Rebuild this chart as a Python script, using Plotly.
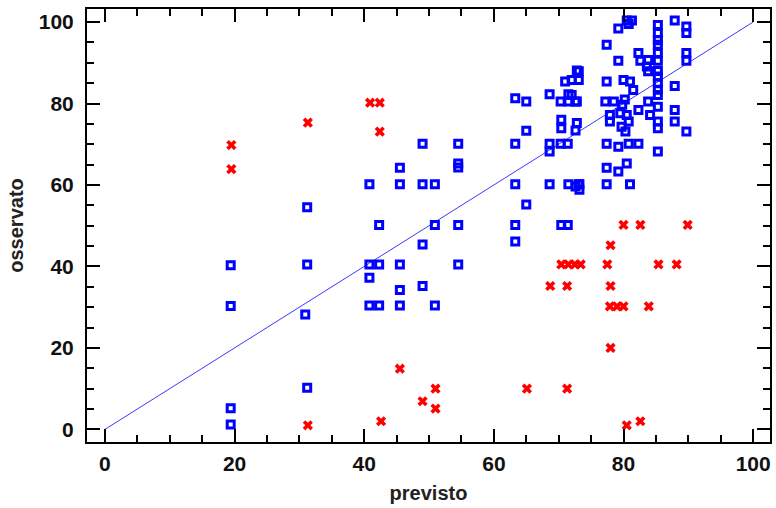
import plotly.graph_objects as go

# Blue points (previsto, osservato)
blue_x = [19.4, 19.4, 19.4, 19.4,
          31.2, 31.2, 30.9, 31.2,
          40.8, 40.8, 42.3, 40.8, 40.8, 42.3, 42.3,
          45.5, 45.5, 45.5, 45.5, 45.5,
          49.0, 49.0, 49.0, 49.0, 50.9, 50.9, 50.9,
          54.5, 54.5, 54.5, 54.5, 54.5,
          63.3, 63.3, 63.3, 63.3, 63.3, 65.0, 65.0, 65.0,
          68.6, 68.6, 68.6, 68.6,
          70.3, 71.4, 70.4, 70.4, 70.3, 71.5, 72.6, 71.5, 71.0, 72.0, 73.1, 73.1, 72.8,
          72.8, 72.6, 73.2, 71.5, 73.1, 73.2, 72.6, 70.4, 71.4, 72.0, 72.8,
          77.4, 79.2, 80.5, 81.3, 80.8, 79.2, 77.4, 80.0, 81.0, 81.5, 77.2, 78.5, 80.2, 79.8,
          82.3, 82.6, 83.8, 83.6, 83.8,
          85.3, 85.3, 85.3, 85.3, 85.3, 85.3, 85.3, 85.3, 85.3, 85.3, 85.3, 85.3, 85.3, 85.3,
          87.9, 89.7, 89.7, 89.7, 89.7, 87.9, 87.9, 87.9, 89.7,
          77.9, 77.9, 79.5, 80.5, 80.8, 79.7, 80.3,
          82.3, 83.8, 84.1,
          77.4, 79.2, 80.8, 82.3, 85.3,
          77.4, 79.2, 80.5, 77.4, 81.0]
blue_y = [40.3, 30.3, 5.2, 1.2,
          54.5, 40.5, 28.2, 10.2,
          60.2, 40.5, 40.5, 37.2, 30.4, 30.4, 50.2,
          64.2, 60.2, 40.5, 34.2, 30.4,
          70.1, 60.2, 45.4, 35.2, 60.2, 50.2, 30.4,
          70.1, 65.3, 64.3, 50.2, 40.5,
          81.3, 70.1, 60.2, 50.2, 46.1, 80.5, 73.3, 55.2,
          82.3, 70.1, 68.2, 60.2,
          70.1, 70.1, 76.0, 73.9, 80.5, 80.5, 80.5, 82.3, 85.4, 85.8, 87.9, 85.8, 88.1,
          75.2, 73.4, 60.2, 60.2, 60.2, 58.8, 59.6, 50.2, 50.2, 82.1, 80.5,
          94.4, 98.4, 100.4, 100.4, 99.5, 90.5, 85.4, 85.8, 85.4, 83.3, 80.5, 80.5, 81.0, 79.7,
          92.4, 90.5, 90.7, 89.1, 87.9,
          99.3, 97.3, 95.5, 94.4, 92.4, 90.5, 88.0, 86.6, 85.0, 83.4, 82.1, 79.2, 75.6, 73.9,
          100.4, 98.9, 97.3, 92.4, 90.5, 84.3, 78.4, 75.6, 73.1,
          77.2, 75.6, 77.6, 77.2, 75.6, 74.3, 73.1,
          78.4, 80.5, 77.2,
          70.1, 69.4, 70.1, 70.1, 68.2,
          64.2, 63.3, 65.3, 60.2, 60.2]

# Red points (previsto, osservato)
red_x = [19.5, 19.5, 31.3, 31.3, 40.9, 42.4, 42.4, 42.6,
         45.5, 49.0, 51.0, 51.0, 65.1, 68.7, 71.3, 71.3,
         70.4, 71.5, 72.5, 73.4,
         77.5, 78.0, 78.0, 78.0, 77.9, 79.0, 80.0, 80.5, 80.0, 82.6, 82.6,
         83.9, 85.4, 88.2, 89.9]
red_y = [69.8, 63.9, 75.3, 1.0, 80.2, 80.2, 73.1, 2.0,
         14.9, 6.9, 10.0, 5.1, 10.0, 35.2, 35.2, 10.0,
         40.5, 40.5, 40.5, 40.5,
         40.5, 45.2, 35.2, 20.0, 30.2, 30.2, 30.2, 1.0, 50.2, 50.2, 2.0,
         30.2, 40.5, 40.5, 50.2]

line_x = [0, 100]
line_y = [0, 100]

fig = go.Figure()
fig.add_trace(go.Scatter(x=line_x, y=line_y, mode="lines",
                         line=dict(color="#3a3aff", width=1), hoverinfo="skip"))
fig.add_trace(go.Scatter(x=blue_x, y=blue_y, mode="markers",
                         marker=dict(symbol="square-open", size=7, color="#0000ff",
                                     line=dict(width=3, color="#0000ff"))))
fig.add_trace(go.Scatter(x=red_x, y=red_y, mode="markers",
                         marker=dict(symbol="x", size=9, color="#ff0000",
                                     line=dict(width=0))))

tickfont = dict(family="Liberation Sans", size=21, color="#111111", weight="bold")
titlefont = dict(family="Liberation Sans", size=20, color="#222222", weight="bold")

axis_common = dict(
    showline=True, linewidth=2, linecolor="black", mirror="ticks",
    ticks="inside", ticklen=13, tickwidth=2, tickcolor="black",
    dtick=20, tick0=0, showgrid=False, zeroline=False,
    tickfont=tickfont,
    minor=dict(ticks="inside", ticklen=7, tickwidth=2, tickcolor="black", dtick=5, showgrid=False),
)

fig.update_layout(
    width=776, height=508,
    margin=dict(l=87, r=4, t=9, b=66),
    plot_bgcolor="white", paper_bgcolor="white",
    showlegend=False,
    xaxis=dict(range=[-2.77, 102.6], ticklabelstandoff=2,
               title=dict(text="previsto", standoff=12, font=titlefont),
               **axis_common),
    yaxis=dict(range=[-3.1, 103.2], ticklabelstandoff=7,
               title=dict(text="osservato", standoff=10, font=titlefont),
               **axis_common),
)

fig.write_html("out.html")
